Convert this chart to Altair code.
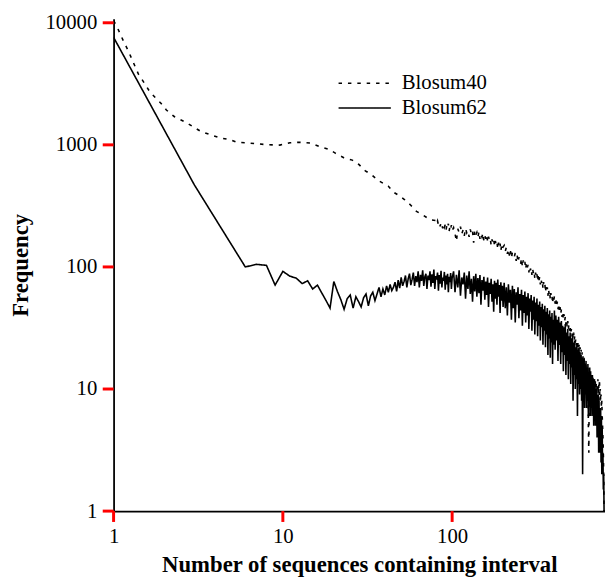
import altair as alt
import pandas as pd

# ---------------- Blosum62 (solid) ----------------
b62_x = [1, 3] + list(range(6, 101)) + list(range(102, 201, 2)) + list(range(203, 401, 3)) + list(range(402, 791, 4))
b62_y = [
    7600, 470,
    100, 105, 103, 71, 92, 84, 81, 73, 77, 66,
    71, 61, 53, 46, 76, 63, 54, 45, 55, 59,
    46, 57, 52, 47, 56, 60, 48, 58, 62, 53,
    60, 68, 57, 66, 59, 70, 62, 72, 64, 68,
    75, 63, 78, 67, 82, 70, 76, 85, 68, 80,
    88, 71, 79, 90, 70, 84, 75, 92, 68, 86,
    77, 94, 70, 83, 88, 66, 85, 78, 92, 69,
    87, 74, 95, 66, 84, 79, 90, 64, 86, 73,
    93, 68, 82, 77, 91, 65, 85, 72, 88, 62,
    83, 75, 89, 66, 81,
    # 102..200 step 2
    92, 62, 86, 68, 94, 58, 82, 72, 90, 55,
    85, 66, 92, 60, 80, 52, 84, 63, 88, 57,
    81, 61, 86, 49, 78, 64, 83, 54, 76, 59,
    82, 47, 74, 60, 80, 52, 72, 43, 77, 55,
    74, 49, 79, 57, 71, 42, 75, 53, 70, 47,
    # 203..398 step 3
    74, 46, 68, 40, 72, 51, 65, 37, 70, 46,
    66, 35, 62, 49, 68, 38, 60, 44, 65, 33,
    59, 42, 63, 35, 57, 40, 61, 31, 55, 43,
    59, 30, 53, 37, 57, 28, 51, 36, 55, 27,
    49, 33, 52, 25, 47, 32, 50, 23, 45, 30,
    48, 22, 43, 28, 46, 19, 41, 26, 44, 18,
    39, 24, 42, 16, 37, 23,
    # 402..790 step 4
    44, 21, 40, 25, 37, 17, 39, 23, 35, 16,
    36, 20, 33, 14, 32, 19, 34, 13, 29, 17,
    31, 12, 27, 16, 29, 11, 26, 15, 27, 8,
    24, 13, 25, 10, 22, 12, 23, 6, 21, 11,
    22, 9, 20, 10, 19, 8, 18, 2, 17, 9,
    18, 7, 16, 9, 17, 7, 15, 8, 16, 6,
    14, 8, 15, 6, 14, 7, 13, 6, 13, 7,
    12, 5, 12, 6, 11, 5, 10, 5, 10, 4,
    9, 4, 9, 3, 8, 3, 7, 3, 7, 2.5,
    6, 2, 5, 2, 3, 1.5, 2, 1,
]

# ---------------- Blosum40 (dotted) ----------------
b40_head_x = [1.0, 1.045, 1.144, 1.223, 1.308, 1.40, 1.53, 1.64, 1.79, 1.91,
              2.05, 2.29, 2.62, 2.93, 3.27, 3.74, 4.28, 4.9, 5.35, 6.13,
              7.0, 8.0, 9.6, 11.0, 12.5, 14.6, 16.4, 18.8, 20.5, 22.9,
              25.7, 28.0, 30.7, 33.6, 36.7, 41.9, 45.0, 48.5, 52.5, 57.0,
              61.6, 66.0, 72.0, 76.0]
b40_head_y = [10400, 9340, 7070, 5870, 4730, 3810, 3160, 2710, 2390, 2180,
              1930, 1700, 1550, 1415, 1290, 1210, 1140, 1100, 1050, 1040,
              1020, 1005, 995, 1040, 1050, 1035, 970, 917, 852, 785,
              750, 694, 613, 566, 509, 460, 410, 385, 355, 320,
              285, 270, 250, 242]
b40_x = b40_head_x + list(range(80, 101)) + list(range(102, 201, 2)) + list(range(203, 401, 3)) + list(range(402, 791, 4))
b40_y = b40_head_y + [
    # 80..100
    240, 226, 238, 221, 230, 215, 232, 218, 207, 225,
    212, 222, 200, 218, 208, 226, 196, 214, 203, 220, 198,
    # 102..200 step 2
    210, 188, 162, 205, 192, 214, 186, 201, 180, 207,
    190, 198, 176, 203, 185, 196, 158, 199, 183, 192,
    174, 195, 170, 186, 176, 190, 165, 181, 170, 184,
    160, 177, 166, 172, 150, 168, 160, 170, 148, 163,
    152, 160, 140, 158, 146, 155, 135, 150, 140, 146,
    # 203..398 step 3
    150, 134, 145, 128, 140, 124, 137, 118, 132, 125,
    121, 130, 112, 126, 109, 120, 114, 106, 118, 100,
    113, 104, 110, 96, 108, 99, 104, 90, 101, 94,
    99, 86, 96, 89, 93, 80, 90, 83, 88, 76,
    86, 78, 83, 72, 80, 74, 78, 66, 75, 70,
    73, 62, 70, 65, 68, 58, 66, 60, 63, 54,
    61, 56, 58, 50, 56, 52,
    # 402..790 step 4
    58, 50, 55, 47, 52, 45, 50, 43, 47, 41,
    45, 39, 43, 37, 41, 36, 39, 34, 37, 32,
    36, 31, 34, 30, 33, 28, 31, 27, 30, 26,
    29, 25, 27, 24, 26, 23, 25, 21, 24, 20,
    23, 19, 22, 18, 21, 17, 20, 16, 19, 15,
    18, 15, 17, 14, 16, 13, 15, 12, 15, 5,
    3, 14, 12, 14, 11, 13, 11, 13, 10, 13,
    10, 12, 10, 12, 9, 12, 9, 11, 9, 11,
    10, 12, 9, 11, 9, 12, 8, 10, 8, 9,
    7, 8, 6, 5, 4, 3, 2, 1,
]

assert len(b62_x) == len(b62_y), (len(b62_x), len(b62_y))
assert len(b40_x) == len(b40_y), (len(b40_x), len(b40_y))

series_names = ["Blosum40", "Blosum62"]
x_ticks = [1, 10, 100]
y_ticks = [1, 10, 100, 1000, 10000]

df = pd.DataFrame({
    "x": b40_x + b62_x,
    "y": b40_y + b62_y,
    "series": [series_names[0]] * len(b40_x) + [series_names[1]] * len(b62_x),
})
xtick_df = pd.DataFrame({"x": x_ticks})
ytick_df = pd.DataFrame({"y": y_ticks})

FONT = "Liberation Serif"
W, H = 498, 499
TICK = 11

axis_common = dict(
    format="d", grid=False, ticks=False, tickSize=0,
    domainColor="black", domainWidth=1.8,
    labelFont=FONT, labelFontSize=21, labelColor="black",
    titleFont=FONT, titleFontSize=23, titleFontWeight="bold", titleColor="black",
)
x_scale = alt.Scale(type="log", domain=[1, 800], nice=False)
y_scale = alt.Scale(type="log", domain=[1, 10800], nice=False)
x_axis = alt.Axis(values=x_ticks, title="Number of sequences containing interval",
                  titleX=249, titleY=61, titleBaseline="alphabetic",
                  labelPadding=TICK + 4, labelFlush=False, **axis_common)
y_axis = alt.Axis(values=y_ticks, title="Frequency",
                  titleX=-87, titleY=249.5, titleBaseline="alphabetic",
                  labelPadding=TICK + 6, labelFlush=False, **axis_common)

lines = alt.Chart(df).mark_line(color="black", strokeWidth=1.6, clip=True).encode(
    x=alt.X("x:Q", scale=x_scale, axis=x_axis),
    y=alt.Y("y:Q", scale=y_scale, axis=y_axis),
    strokeDash=alt.StrokeDash(
        "series:N",
        scale=alt.Scale(domain=series_names, range=[[3.5, 6], [1, 0]]),
        legend=alt.Legend(title=None, orient="none", legendX=227, legendY=53,
                          symbolType="stroke", symbolSize=2809,
                          symbolStrokeWidth=1.6, symbolStrokeColor="black",
                          labelFont=FONT, labelFontSize=21, labelColor="black",
                          labelOffset=10, clipHeight=25, rowPadding=0, padding=0),
    ),
)

x_tick_marks = alt.Chart(xtick_df).mark_rule(color="red", strokeWidth=3).encode(
    x=alt.X("x:Q", scale=x_scale, axis=x_axis),
    y=alt.value(H), y2=alt.value(H + TICK),
)
y_tick_marks = alt.Chart(ytick_df).mark_rule(color="red", strokeWidth=3).encode(
    y=alt.Y("y:Q", scale=y_scale, axis=y_axis),
    x=alt.value(-TICK), x2=alt.value(0),
)

chart = alt.layer(lines, x_tick_marks, y_tick_marks).properties(
    width=W, height=H,
    autosize=alt.AutoSizeParams(type="none"),
    padding={"left": 107, "top": 7, "right": 0, "bottom": 67},
).configure_view(stroke=None)

chart.save("out.html", embed_options={"renderer": "svg", "actions": False})
